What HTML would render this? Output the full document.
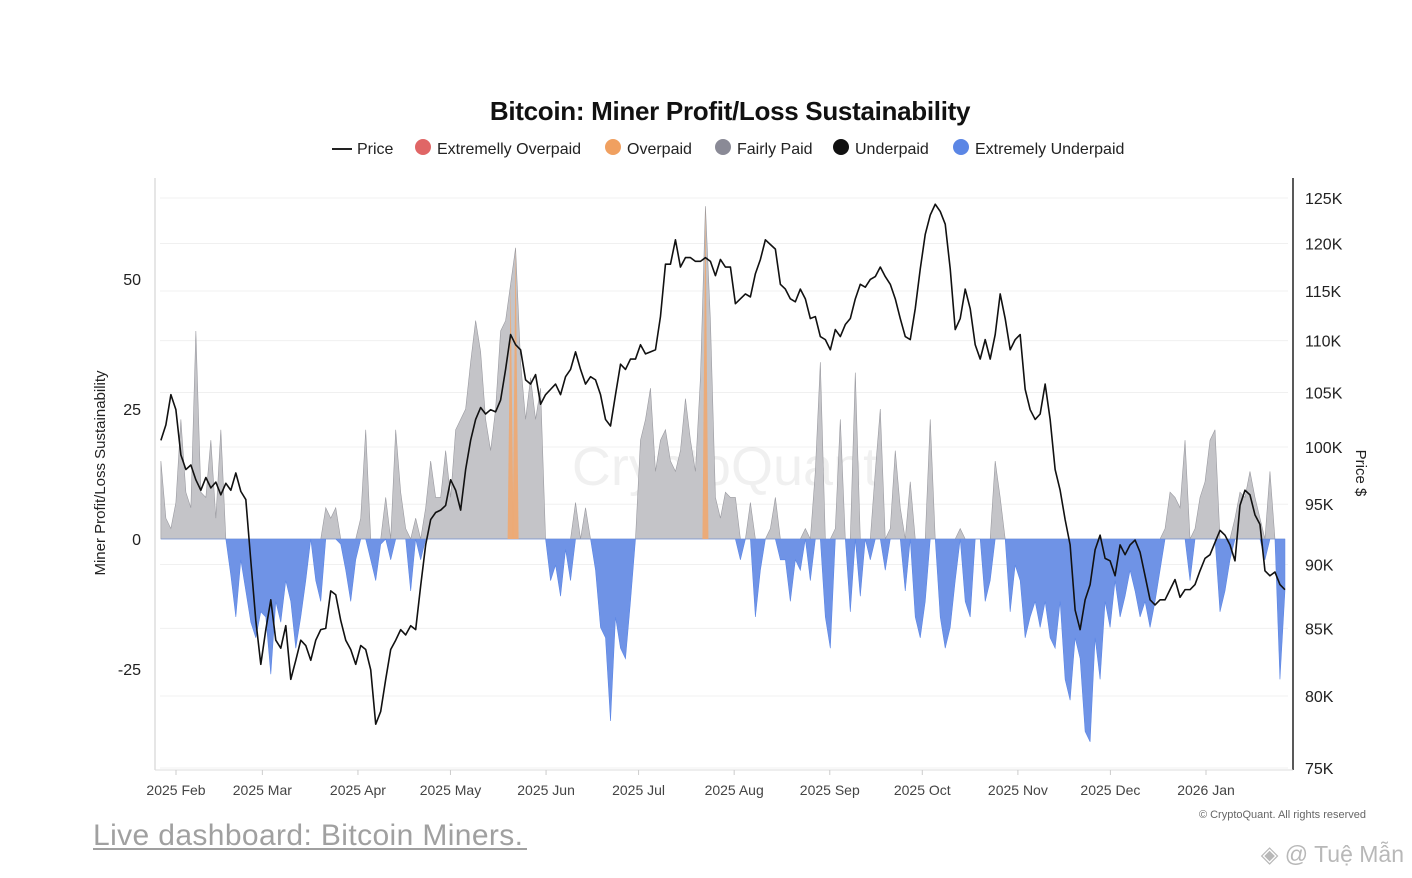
<!DOCTYPE html>
<html><head><meta charset="utf-8">
<style>
html,body{margin:0;padding:0;background:#fff;}
body{width:1412px;height:878px;overflow:hidden;position:relative;font-family:"Liberation Sans",sans-serif;}
svg{position:absolute;left:0;top:0;}
</style></head>
<body>
<svg id="chart" width="1412" height="878" viewBox="0 0 1412 878">
  <text x="730" y="120" text-anchor="middle" font-size="26" font-weight="bold" fill="#111" style="letter-spacing:-0.3px">Bitcoin: Miner Profit/Loss Sustainability</text>
  <g id="legend" font-size="16" fill="#222">
    <g><line x1="332" y1="149" x2="352" y2="149" stroke="#222" stroke-width="2"/><text x="357" y="154">Price</text></g>
    <g><circle cx="423" cy="147" r="8" fill="#e06666"/><text x="437" y="154">Extremelly Overpaid</text></g>
    <g><circle cx="613" cy="147" r="8" fill="#f0a060"/><text x="627" y="154">Overpaid</text></g>
    <g><circle cx="723" cy="147" r="8" fill="#8a8a96"/><text x="737" y="154">Fairly Paid</text></g>
    <g><circle cx="841" cy="147" r="8" fill="#111"/><text x="855" y="154">Underpaid</text></g>
    <g><circle cx="961" cy="147" r="8" fill="#5b86e5"/><text x="975" y="154">Extremely Underpaid</text></g>
  </g>
  <g id="grid"></g>
  <text x="725" y="485" text-anchor="middle" font-size="54" fill="#000" fill-opacity="0.06">CryptoQuant</text>
  <g id="marks"></g>
  <line x1="155" y1="178" x2="155" y2="770" stroke="#ccc" stroke-width="1"/>
  <line x1="1293" y1="178" x2="1293" y2="770" stroke="#222" stroke-width="1.5"/>
  <line x1="155" y1="770" x2="1293" y2="770" stroke="#ddd" stroke-width="1"/>
  <g id="yleft" font-size="16" fill="#222" text-anchor="end"></g>
  <g id="yright" font-size="16" fill="#222"></g>
  <g id="xaxis" font-size="14" fill="#444" text-anchor="middle"></g>
  <text transform="translate(105,473) rotate(-90)" text-anchor="middle" font-size="15" fill="#222">Miner Profit/Loss Sustainability</text>
  <text transform="translate(1356,473) rotate(90)" text-anchor="middle" font-size="15" fill="#222">Price $</text>
  <text x="1366" y="818" text-anchor="end" font-size="11" fill="#666">© CryptoQuant. All rights reserved</text>
  <text x="93" y="845" font-size="30" fill="#a0a0a0" textLength="430">Live dashboard: Bitcoin Miners.</text>
  <line x1="93" y1="849" x2="527" y2="849" stroke="#a0a0a0" stroke-width="2"/>
  <text x="1404" y="862" text-anchor="end" font-size="23" fill="#b8b8b8">◈ @ Tuệ Mẫn</text>
</svg>
<script>
const monthLabels = ["2025 Feb","2025 Mar","2025 Apr","2025 May","2025 Jun","2025 Jul","2025 Aug","2025 Sep","2025 Oct","2025 Nov","2025 Dec","2026 Jan"];
const monthDays = [0,28,59,89,120,150,181,212,242,273,303,334];
const leftTicks = [50,25,0,-25];
const rightTicks = [125,120,115,110,105,100,95,90,85,80,75];
const rightTickLabels = ["125K","120K","115K","110K","105K","100K","95K","90K","85K","80K","75K"];
const startDay = -4.9, endDay = 359.6;
const price = [100.6,102.0,104.8,103.4,99.3,98.0,98.4,97.1,96.2,97.3,96.4,96.9,95.8,96.8,96.2,97.7,96.1,95.4,90.3,85.6,82.3,84.9,87.2,84.1,83.5,85.2,81.2,82.6,84.1,83.7,82.6,84.1,84.9,85.0,87.9,87.6,85.6,84.1,83.4,82.3,83.7,83.4,81.9,78.0,78.9,81.2,83.4,84.1,84.9,84.5,85.2,84.9,88.3,91.6,93.7,94.3,94.5,94.9,97.1,96.2,94.5,98.0,100.6,102.5,103.6,103.0,103.4,103.2,104.3,107.2,110.6,109.6,109.1,106.2,105.8,106.7,103.9,104.8,105.3,105.8,104.8,106.5,107.2,108.9,107.2,105.8,106.5,106.2,104.8,102.5,101.9,104.8,107.7,107.2,108.2,108.2,109.6,108.7,108.9,109.1,112.4,117.8,117.8,120.4,117.5,118.5,118.5,118.1,118.1,118.5,118.1,116.6,118.3,117.5,117.5,113.7,114.2,114.7,114.4,116.8,118.3,120.4,119.9,119.4,115.7,115.2,114.2,113.9,115.2,114.2,112.2,112.4,110.4,110.1,109.1,111.1,110.4,111.6,112.2,114.2,115.7,115.4,116.2,116.5,117.5,116.5,115.7,114.2,112.2,110.4,110.1,113.2,117.3,121.0,123.1,124.3,123.5,122.1,117.3,111.1,112.2,115.2,113.2,109.6,108.2,110.1,108.2,110.6,114.7,112.2,109.1,110.1,110.6,105.3,103.4,102.5,103.0,105.8,102.5,98.0,96.2,93.7,91.6,86.4,84.9,87.2,88.4,91.2,92.4,90.5,90.3,89.1,91.6,90.8,91.6,92.0,91.0,89.1,87.2,86.8,87.2,87.2,88.0,88.8,87.4,88.0,88.0,88.4,89.5,90.5,90.8,91.8,92.8,92.4,91.6,90.3,94.9,96.2,95.8,94.1,93.3,89.5,89.1,89.4,88.4,88.0];
const sustainability = [15,4,2,7,23,9,6,40,9,8,19,4,21,0,-7,-15,-4,-10,-16,-19,-14,-15,-26,-12,-16,-8,-12,-21,-15,-8,0,-8,-12,6,4,6,-1,-6,-12,-4,4,21,-4,-8,-1,8,-4,21,9,2,-10,4,-4,6,15,8,8,17,8,21,23,25,34,42,36,23,17,25,40,42,49,56,34,23,31,23,29,0,-8,-5,-11,-2,-8,7,0,6,0,-6,-17,-19,-35,-15,-21,-23,-12,0,19,23,29,13,19,21,15,13,17,27,19,13,31,64,42,8,4,9,8,8,-4,0,7,-15,-6,0,2,8,-4,-4,-12,-4,-6,2,-8,13,34,-15,-21,2,23,0,-14,32,-11,0,-4,13,25,-6,2,17,6,-10,11,-15,-19,-12,23,0,-15,-21,-17,-8,2,-12,-15,0,0,-12,-8,15,8,0,-14,-5,-8,-19,-15,-12,-17,-12,-19,-21,-12,-27,-31,-19,-23,-37,-39,-19,-27,-12,-17,-8,-15,-11,-6,-10,-15,-12,-17,-12,-6,2,9,8,6,19,-8,2,8,11,19,21,-14,-10,-4,4,9,8,13,8,4,-4,13,0,-27,-10];
const overpaidThreshold = 45;

const NS = "http://www.w3.org/2000/svg";
const pxPerDay = (1206-176)/334;
function xScale(d){ return 176 + d*pxPerDay; }
function yLeft(v){ return 539 - v*5.2; }
const lnTop = Math.log(125), lnBot = Math.log(75);
function yRight(p){ return 198 + (lnTop - Math.log(p))/(lnTop - lnBot)*570; }
function dayAt(i,n){ return startDay + i*(endDay-startDay)/(n-1); }
function mk(tag, attrs, parent){ const e=document.createElementNS(NS,tag); for(const k in attrs) e.setAttribute(k,attrs[k]); parent.appendChild(e); return e; }

const grid = document.getElementById('grid');
rightTicks.forEach(t=>{
  const l = mk('line',{x1:160,x2:1288,y1:yRight(t),y2:yRight(t),stroke:'#f0f0f0','stroke-width':1},grid);
  
  
});
const yl = document.getElementById('yleft');
leftTicks.forEach(t=>{
  const e = mk('text',{x:141,y:yLeft(t)+6},yl); e.textContent = t;
  
  
});
const yr = document.getElementById('yright');
rightTicks.forEach((t,i)=>{
  const e = mk('text',{x:1305,y:yRight(t)+6},yr); e.textContent = rightTickLabels[i];
  
  
});
const xa = document.getElementById('xaxis');
monthLabels.forEach((m,i)=>{
  const x = xScale(monthDays[i]);
  const tk = mk('line',{x1:x,x2:x,y1:770,y2:775,stroke:'#ccc'},xa);
  
  
  const e = mk('text',{x:x,y:795},xa); e.textContent = m;
  
  
});

const marks = document.getElementById('marks');
const n = sustainability.length;
let pos = `M${xScale(dayAt(0,n))},${yLeft(0)}`, neg = pos;
sustainability.forEach((v,i)=>{
  const x = xScale(dayAt(i,n));
  pos += ` L${x},${yLeft(Math.max(v,0))}`;
  neg += ` L${x},${yLeft(Math.min(v,0))}`;
});
const xe = xScale(dayAt(n-1,n));
pos += ` L${xe},${yLeft(0)} Z`; neg += ` L${xe},${yLeft(0)} Z`;
const gp = mk('path',{d:pos,fill:'#c4c4c8',stroke:'#9a9aa0','stroke-width':0.6},marks);


const bp = mk('path',{d:neg,fill:'#6f93e6',stroke:'#5b86e5','stroke-width':0.6},marks);


sustainability.forEach((v,i)=>{
  if(v>=overpaidThreshold){
    const x = xScale(dayAt(i,n));
    const t = mk('path',{d:`M${x-3},${yLeft(0)} L${x},${yLeft(v)} L${x+3},${yLeft(0)} Z`,fill:'#f0a870','fill-opacity':0.9},marks);
    
    
  }
});
let pd = '';
price.forEach((p,i)=>{ pd += (i?' L':'M') + xScale(dayAt(i,price.length)) + ',' + yRight(p); });
const pl = mk('path',{d:pd,fill:'none',stroke:'#111','stroke-width':1.6,'stroke-linejoin':'round'},marks);


</script>
</body></html>
